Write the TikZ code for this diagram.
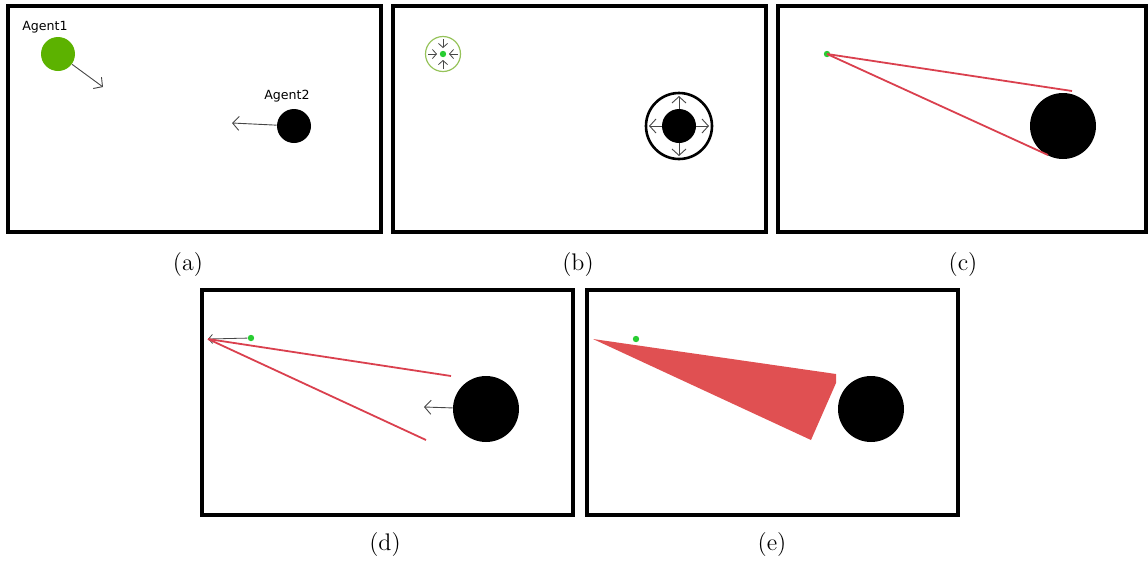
\documentclass[tikz,border=0pt]{standalone}
\usepackage{fontspec}
\usepackage{tikz}
\usetikzlibrary{arrows.meta,calc}
\newfontfamily\agentfont{DejaVu Sans}
\definecolor{agentgreen}{RGB}{92,178,0}
\definecolor{dotgreen}{RGB}{40,205,50}
\definecolor{ringgreen}{RGB}{150,195,90}
\definecolor{sightred}{RGB}{218,64,78}
\definecolor{conered}{RGB}{224,80,82}
\definecolor{arrowgray}{RGB}{70,70,70}
\tikzset{
  panel/.style={draw=black,line width=1.6pt},
  agentA/.style={circle,fill=agentgreen,inner sep=0pt,minimum size=17pt},
  agentB/.style={circle,fill=black,inner sep=0pt,minimum size=17pt},
  bigagent/.style={circle,fill=black,inner sep=0pt,minimum size=33pt},
  greendot/.style={circle,fill=dotgreen,inner sep=0pt,minimum size=3.2pt},
  greenring/.style={circle,draw=ringgreen,line width=0.6pt,inner sep=0pt,minimum size=17.5pt},
  blackring/.style={circle,draw=black,line width=1.3pt,inner sep=0pt,minimum size=33pt},
  agentlbl/.style={font=\agentfont\fontsize{6.3}{7}\selectfont,inner sep=0pt},
  subcap/.style={font=\large,inner sep=0pt},
  move/.style={-{Straight Barb[length=3.2pt,width=7pt]},draw=arrowgray,line width=0.45pt},
  small move/.style={-{Straight Barb[length=2pt,width=4.5pt]},draw=arrowgray,line width=0.4pt},
  sight/.style={draw=sightred,line width=0.9pt},
}

\begin{document}
\begin{tikzpicture}[x=0.5pt,y=-0.5pt]
  \useasboundingbox (0,0) rectangle (1148,569);

  % (a) two agents and their headings
  \draw[panel] (8,6) rectangle (381,232);
  \node[agentA] (a1) at (58,54) {};
  \node[agentlbl] (a1lbl) at (45,27) {Agent1};
  \node[agentB] (a2) at (294,126) {};
  \node[agentlbl] (a2lbl) at (287,96) {Agent2};
  \coordinate (a1to) at (103,87);
  \coordinate (a2to) at (232,123);
  \draw[move] (a1) -- (a1to);
  \draw[move] (a2) -- (a2to);
  \node[subcap] (capa) at (188,265) {(a)};

  % (b) shrinking and growing the agents
  \draw[panel] (393,6) rectangle (766,232);
  \node[greenring] (bring) at (443,54) {};
  \node[greendot] (bdot) at (443,54) {};
  \foreach \a in {0,90,180,270}
    \draw[small move] ($(bdot)+(\a:15)$) -- ($(bdot)+(\a:6)$);
  \node[blackring] (bbig) at (679,126) {};
  \node[agentB] (bagent) at (679,126) {};
  \foreach \a in {0,90,180,270}
    \draw[move] ($(bagent)+(\a:17)$) -- ($(bagent)+(\a:30)$);
  \node[subcap] (capb) at (578,265) {(b)};

  % (c) tangent lines from the point
  \draw[panel] (778,6) rectangle (1146,232);
  \node[greendot] (cdot) at (827,54) {};
  \node[bigagent] (cbig) at (1063,126) {};
  \coordinate (ctop) at (1072,91);
  \coordinate (cbot) at (1048,155);
  \draw[sight] (cdot.center) -- (ctop);
  \draw[sight] (cdot.center) -- (cbot);
  \node[subcap] (capc) at (963,265) {(c)};

  % (d) lines shifted by the velocity
  \draw[panel] (202,290) rectangle (573,515);
  \node[greendot] (ddot) at (251,338) {};
  \coordinate (dapex) at (208,339);
  \draw[small move] (ddot) -- (dapex);
  \coordinate (dtop) at (451,376);
  \coordinate (dbot) at (426,440);
  \draw[sight] (dapex) -- (dtop);
  \draw[sight] (dapex) -- (dbot);
  \node[bigagent] (dbig) at (486,409) {};
  \coordinate (dto) at (424,407);
  \draw[move] (dbig) -- (dto);
  \node[subcap] (capd) at (385,545) {(d)};

  % (e) the forbidden cone
  \draw[panel] (587,290) rectangle (958,515);
  \coordinate (eapex) at (593,339);
  \fill[conered] (eapex) -- (836,374) -- (836,383) -- (811,440) -- cycle;
  \node[greendot] (edot) at (636,339) {};
  \node[bigagent] (ebig) at (871,409) {};
  \node[subcap] (cape) at (772,545) {(e)};

\end{tikzpicture}
\end{document}
